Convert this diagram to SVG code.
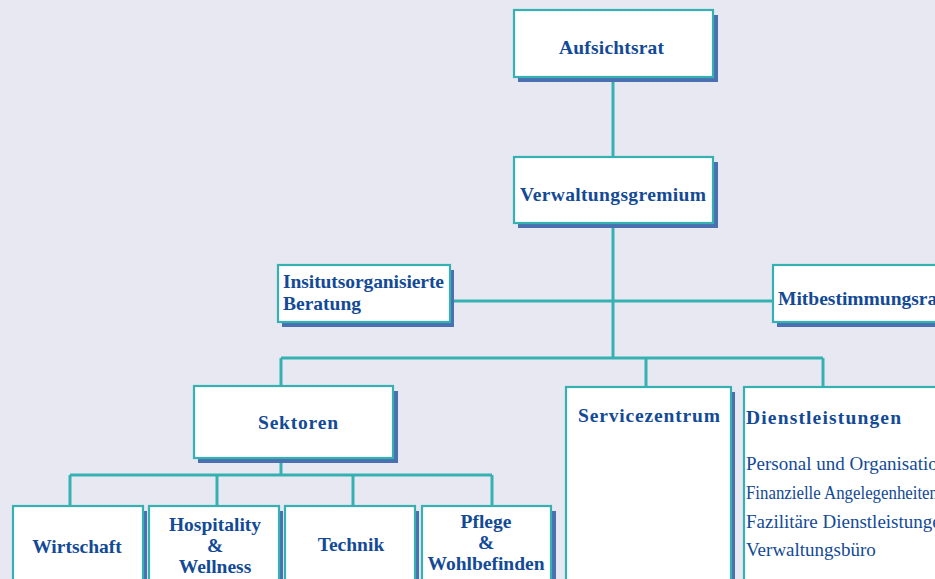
<svg xmlns="http://www.w3.org/2000/svg" width="935" height="579" viewBox="0 0 935 579">
<style>
.bg{fill:#e8e8f3}
.shadow{fill:#4a70b2}
.box{fill:#ffffff;stroke:#35b1b1;stroke-width:2.2}
.conn{stroke:#35b1b1;stroke-width:3;fill:none}
.t{font-family:"Liberation Serif","Times New Roman",serif;font-weight:bold;font-size:19.5px;fill:#134a96}
.c{text-anchor:middle}
.r{font-weight:normal;font-size:19px}
</style>
<rect class="bg" x="0" y="0" width="935" height="579"/>
<g id="connectors">
<path class="conn" d="M613,77 V157 M613,223 V358 M450,301 H773 M281,358 H823 M281,358 V387 M646,358 V387 M823,358 V387 M281,459 V475 M70,475 H492 M70,475 V506 M217,475 V506 M353,475 V506 M492,475 V506"/>
</g>
<g id="aufsichtsrat">
<rect class="shadow" x="518" y="15" width="200" height="67"/>
<rect class="box" x="514" y="10" width="199" height="67"/>
<text class="t" x="559" y="54" font-size="20.5" textLength="105" lengthAdjust="spacing">Aufsichtsrat</text>
</g>
<g id="verwaltungsgremium">
<rect class="shadow" x="518" y="162" width="200" height="66"/>
<rect class="box" x="514" y="157" width="199" height="66"/>
<text class="t" x="520" y="201" font-size="20.5" textLength="186" lengthAdjust="spacing">Verwaltungsgremium</text>
</g>
<g id="beratung">
<rect class="shadow" x="282" y="270" width="172" height="57"/>
<rect class="box" x="278" y="265" width="172" height="57"/>
<text class="t" x="283" y="288" textLength="161" lengthAdjust="spacing">Insitutsorganisierte</text>
<text class="t" x="283" y="310">Beratung</text>
</g>
<g id="mitbestimmungsrat">
<rect class="shadow" x="777" y="270" width="170" height="57"/>
<rect class="box" x="773" y="265" width="170" height="57"/>
<text class="t" x="778" y="305">Mitbestimmungsrat</text>
</g>
<g id="sektoren">
<rect class="shadow" x="198" y="391" width="200" height="72"/>
<rect class="box" x="194" y="386" width="199" height="72"/>
<text class="t" x="258" y="429" font-size="21" textLength="80" lengthAdjust="spacing">Sektoren</text>
</g>
<g id="servicezentrum">
<rect class="shadow" x="570" y="392" width="165" height="200"/>
<rect class="box" x="566" y="387" width="165" height="200"/>
<text class="t" x="578" y="422" font-size="21" textLength="142" lengthAdjust="spacing">Servicezentrum</text>
</g>
<g id="dienstleistungen">
<rect class="shadow" x="748" y="392" width="200" height="200"/>
<rect class="box" x="744" y="387" width="200" height="200"/>
<text class="t" x="746" y="424" font-size="22" textLength="155" lengthAdjust="spacing">Dienstleistungen</text>
<text class="t r" x="746" y="470">Personal und Organisation</text>
<text class="t r" x="746" y="499" textLength="192" lengthAdjust="spacingAndGlyphs">Finanzielle Angelegenheiten</text>
<text class="t r" x="746" y="528">Fazilitäre Dienstleistungen</text>
<text class="t r" x="746" y="556">Verwaltungsbüro</text>
</g>
<g id="wirtschaft">
<rect class="shadow" x="17" y="511" width="130" height="80"/>
<rect class="box" x="13" y="506" width="130" height="80"/>
<text class="t c" x="77" y="553">Wirtschaft</text>
</g>
<g id="hospitality">
<rect class="shadow" x="153" y="511" width="130" height="80"/>
<rect class="box" x="149" y="506" width="130" height="80"/>
<text class="t c" x="215" y="531">Hospitality</text>
<text class="t c" x="215" y="552">&amp;</text>
<text class="t c" x="215" y="573">Wellness</text>
</g>
<g id="technik">
<rect class="shadow" x="289" y="511" width="130" height="80"/>
<rect class="box" x="285" y="506" width="130" height="80"/>
<text class="t c" x="351" y="551">Technik</text>
</g>
<g id="pflege">
<rect class="shadow" x="426" y="511" width="130" height="80"/>
<rect class="box" x="422" y="506" width="129" height="80"/>
<text class="t c" x="486" y="528">Pflege</text>
<text class="t c" x="486" y="549">&amp;</text>
<text class="t c" x="486" y="570">Wohlbefinden</text>
</g>
</svg>
